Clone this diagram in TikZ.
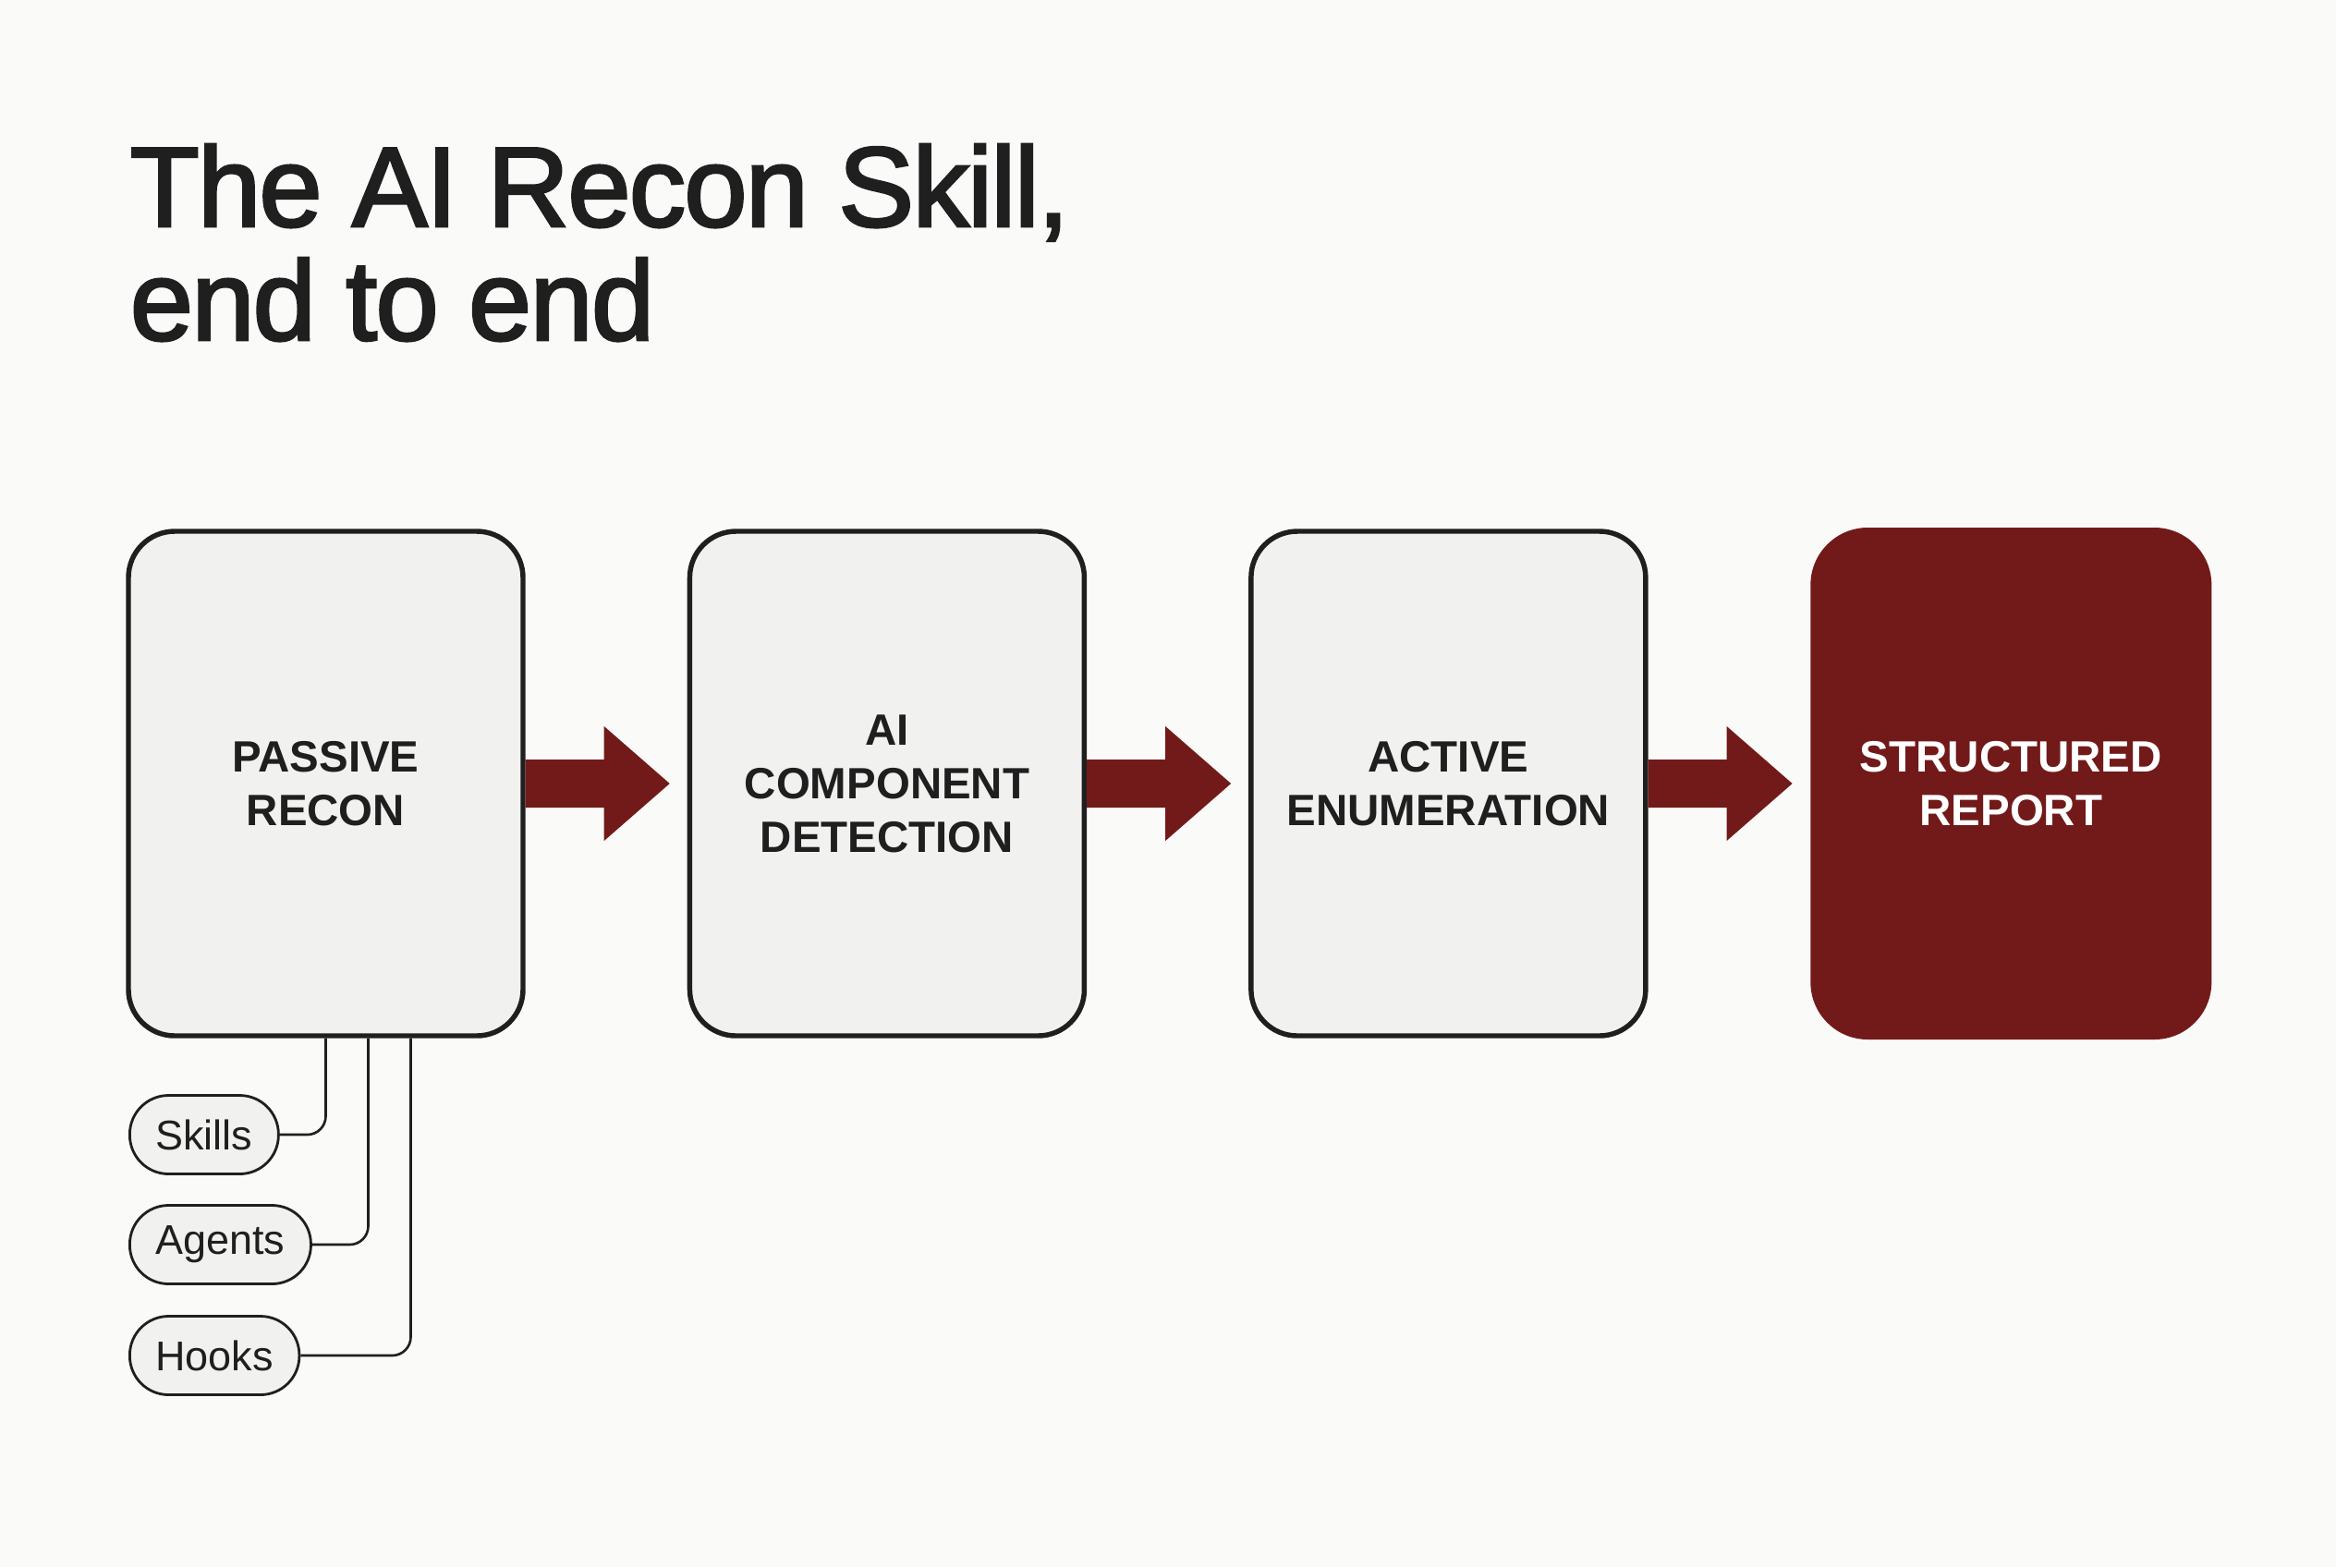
\documentclass[tikz,border=0pt]{standalone}
\usepackage{fontspec}
\setmainfont{Liberation Sans}
\newfontfamily\titlefont[FakeBold=2.2,LetterSpace=-1.6]{Liberation Sans}
\usepackage{xcolor}
\usetikzlibrary{positioning, calc}
\definecolor{pagebg}{HTML}{FAFAF8}
\definecolor{stagegrey}{HTML}{F1F1EF}
\definecolor{inkdark}{HTML}{1F1F1F}
\definecolor{reconred}{HTML}{721A1A}

\begin{document}
\begin{tikzpicture}[
    stage/.style={
        draw=inkdark, line width=1.55pt, fill=stagegrey,
        rectangle, rounded corners=0.5cm,
        minimum width=4.27cm, minimum height=5.46cm,
        align=center, text=inkdark,
        font=\fontsize{13.5}{16.5}\selectfont\bfseries,
    },
    reportbox/.style={
        fill=reconred, rectangle, rounded corners=0.62cm,
        minimum width=4.34cm, minimum height=5.54cm,
        align=center, text=white,
        font=\fontsize{13.5}{16.5}\selectfont\bfseries,
    },
    pill/.style={
        draw=inkdark, line width=0.8pt, fill=stagegrey,
        rectangle, rounded corners=0.42cm,
        minimum height=0.85cm, inner xsep=0.28cm,
        text=inkdark, font=\fontsize{12.8}{15}\selectfont,
    },
    flow/.style={fill=reconred},
    link/.style={draw=inkdark, line width=0.75pt, rounded corners=0.2cm},
]

\useasboundingbox[fill=pagebg] (0,0) rectangle (25.28,-16.96);

\node[anchor=base west, align=left, inner sep=0pt, text=inkdark,
      font=\titlefont\fontsize{35}{35}\selectfont] (title) at (1.40,-3.68)
      {The AI Recon Skill,\\end to end};

\node[stage] (passive) at (3.525,-8.48) {PASSIVE\\RECON};
\node[stage, right=1.75cm of passive] (detect) {AI\\COMPONENT\\DETECTION};
\node[stage, right=1.75cm of detect] (active) {ACTIVE\\ENUMERATION};
\node[reportbox, right=1.75cm of active] (report) {STRUCTURED\\REPORT};

\foreach \a/\b in {passive/detect, detect/active, active/report}
    \fill[flow] ($(\a.east)+(0,0.26)$) -- ($(\b.west)+(-0.9,0.26)$)
        -- ($(\b.west)+(-0.9,0.62)$) -- ($(\b.west)+(-0.19,0)$)
        -- ($(\b.west)+(-0.9,-0.62)$) -- ($(\b.west)+(-0.9,-0.26)$)
        -- ($(\a.east)+(0,-0.26)$) -- cycle;

\node[pill, anchor=west] (skills) at (1.39,-12.28) {Skills};
\node[pill, anchor=west] (agents) at (1.39,-13.47) {Agents};
\node[pill, anchor=west] (hooks) at (1.39,-14.67) {Hooks};

\draw[link] (passive.south) |- (skills.east);
\draw[link] ($(passive.south)+(0.46,0)$) |- (agents.east);
\draw[link] ($(passive.south)+(0.92,0)$) |- (hooks.east);

\end{tikzpicture}
\end{document}
